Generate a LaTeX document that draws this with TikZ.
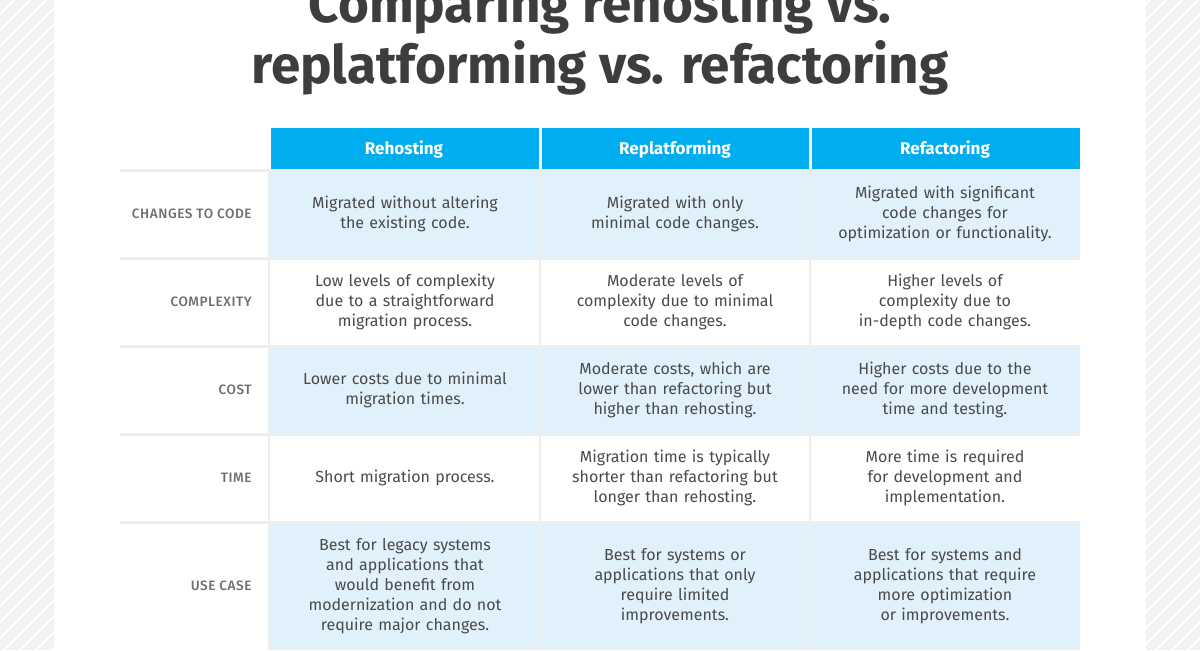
\documentclass[tikz,border=0pt]{standalone}
\usepackage{fontspec}
\setmainfont{Fira Sans}
\newfontfamily\labelfont[LetterSpace=4]{Fira Sans Medium}
\usetikzlibrary{positioning}
\definecolor{Title}{HTML}{3D3D3D}
\definecolor{Body}{HTML}{4A4A4A}
\definecolor{Label}{HTML}{6E6E6E}
\definecolor{Head}{HTML}{00AEEF}
\definecolor{Pale}{HTML}{E1F1FB}
\definecolor{Rule}{HTML}{EEEEEE}
\definecolor{Hatch}{HTML}{F2F2F2}
\tikzset{head/.style ={
        font=\bfseries\fontsize{8.5}{10}\selectfont,
        text=white,
        anchor=center
    },
    cell/.style ={
        font=\fontsize{8}{10}\selectfont,
        text=Body,
        text width=125pt,
        align=center,
        anchor=center
    },
    rowlabel/.style ={
        font=\labelfont\fontsize{6.8}{8}\selectfont,
        text=Label,
        inner sep=0pt,
        anchor=east
    },
    ttl/.style ={
        font=\bfseries\fontsize{26.5}{32}\selectfont,
        text=Title,
        anchor=center
    }}
\begin{document}
\begin{tikzpicture}[x=0.5pt,y=-0.5pt]
    \useasboundingbox (0,0) rectangle (1200,650);
    % side panels
    \fill[Hatch] (0,0) rectangle (54,650);
    \fill[Hatch] (1146,0) rectangle (1200,650);
    \begin{scope}
      \clip (0,0) rectangle (54,650) (1146,0) rectangle (1200,650);
      \foreach \k in {-700,-684,...,1200}
        \draw[white,line width=1pt] (\k,650) -- (\k+650,0);
    \end{scope}
    % title
    \node (t1)[ttl] at (600,7) {Comparing rehosting vs.};
    \node (t2)[ttl] at (600,68) {replatforming vs. refactoring};
    % header
    \fill[Head] (270,128) rectangle (1080,169);
    \node (h1)[head] at (404,149) {Rehosting};
    \node (h2)[head] at (675,149) {Replatforming};
    \node (h3)[head] at (945,149) {Refactoring};
    % row fills
    \foreach \y in {171,347,523}
      \fill[Pale] (270,\y) rectangle (1080,\y+86);
    \fill[Pale] (270,523) rectangle (1080,650);
    % rules
    \foreach \y in {170,258,346,434,522}
      \draw[Rule,line width=1.5pt] (120,\y) -- (1080,\y);
    \foreach \x in {269,540,810}
      \draw[white,line width=1.5pt] (\x,128) -- (\x,169);
    \foreach \x in {269,540,810}
      \draw[Rule,line width=1pt] (\x,170) -- (\x,650);
    % row labels
    \node (l1)[rowlabel] at (252,214) {CHANGES TO CODE};
    \node (l2)[rowlabel] at (252,302) {COMPLEXITY};
    \node (l3)[rowlabel] at (252,390) {COST};
    \node (l4)[rowlabel] at (252,478) {TIME};
    \node (l5)[rowlabel] at (252,586) {USE CASE};
    % cells
    \node (a1)[cell] at (405,214) {Migrated without altering\\the existing code.};
    \node (b1)[cell] at (675,214) {Migrated with only\\minimal code changes.};
    \node (c1)[cell] at (945,214) {Migrated with significant\\code changes for\\optimization or functionality.};
    \node (a2)[cell] at (405,302) {Low levels of complexity\\due to a straightforward\\migration process.};
    \node (b2)[cell] at (675,302) {Moderate levels of\\complexity due to minimal\\code changes.};
    \node (c2)[cell] at (945,302) {Higher levels of\\complexity due to\\in-depth code changes.};
    \node (a3)[cell] at (405,390) {Lower costs due to minimal\\migration times.};
    \node (b3)[cell] at (675,390) {Moderate costs, which are\\lower than refactoring but\\higher than rehosting.};
    \node (c3)[cell] at (945,390) {Higher costs due to the\\need for more development\\time and testing.};
    \node (a4)[cell] at (405,478) {Short migration process.};
    \node (b4)[cell] at (675,478) {Migration time is typically\\shorter than refactoring but\\longer than rehosting.};
    \node (c4)[cell] at (945,478) {More time is required\\for development and\\implementation.};
    \node (a5)[cell] at (405,586) {Best for legacy systems\\and applications that\\would benefit from\\modernization and do not\\require major changes.};
    \node (b5)[cell] at (675,586) {Best for systems or\\applications that only\\require limited\\improvements.};
    \node (c5)[cell] at (945,586) {Best for systems and\\applications that require\\more optimization\\or improvements.};
\end{tikzpicture}
\end{document}
